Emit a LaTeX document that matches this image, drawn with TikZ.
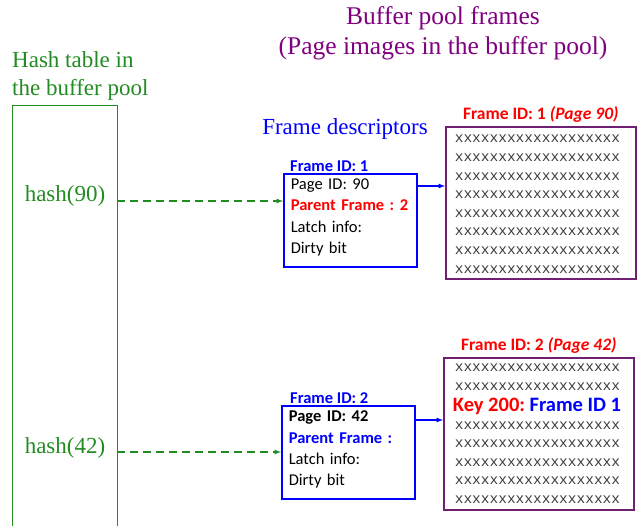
\documentclass[tikz,border=0pt]{standalone}
\usepackage{fontspec}
\setmainfont{Liberation Serif}
\setsansfont{Carlito}
\setmonofont{Liberation Mono}
\usetikzlibrary{positioning,arrows}
\frenchspacing

\definecolor{hashgreen}{RGB}{34,139,34}
\definecolor{titlepurple}{RGB}{128,0,128}
\definecolor{framepurple}{RGB}{112,32,112}
\definecolor{rowgray}{RGB}{60,60,60}

\begin{document}
\begin{tikzpicture}[x=1pt,y=-1pt,every node/.style={inner sep=0pt},
	serif/.style={font=\fontsize{23}{28}\selectfont},
	desc/.style={draw=blue,line width=1.6pt,anchor=north west,minimum width=133pt,minimum height=93pt,
		text width=119pt,inner xsep=7pt,text depth=72pt,align=left,font=\sffamily\fontsize{16.5}{21.3}\selectfont},
	pageframe/.style={draw=framepurple,line width=1.6pt,anchor=north west,minimum width=190pt,minimum height=152pt},
	idlabel/.style={font=\sffamily\bfseries\fontsize{16.5}{18}\selectfont,text=blue},
	framelabel/.style={font=\sffamily\bfseries\fontsize{17.5}{18}\selectfont,text=red},
	row/.style={font=\ttfamily\fontsize{14.5}{15}\selectfont,text=rowgray},
	hashptr/.style={->,>=latex,hashgreen,dash pattern=on 8pt off 5pt,line width=1.2pt},
	ptr/.style={->,>=latex,blue,line width=1.2pt}]
			\useasboundingbox (0,0) rectangle (642,525);

			%titles
			\node [font=\fontsize{25.5}{30}\selectfont,text=titlepurple,align=center] (title) at (443,33) {Buffer pool frames\\(Page images in the buffer pool)};
			\node [serif,text=hashgreen,align=left,anchor=west] (htitle) at (12,76) {Hash table in\\the buffer pool};
			\node [serif,text=blue] (dtitle) at (345,129) {Frame descriptors};

			%hash table
			\draw[hashgreen,thick] (12,530) -- (12,105) -- (117,105) -- (117,530);
			\node [serif,text=hashgreen] (h90) at (65,196) {hash(90)};
			\node [serif,text=hashgreen] (h42) at (65,448) {hash(42)};
			\coordinate (t90) at (117,201);
			\coordinate (t42) at (117,452);

			%frame descriptors
			\node [desc,label={[idlabel,anchor=south west,xshift=7pt,yshift=1pt]north west:Frame ID: 1}] (d1) at (283,173)
				{Page ID: 90\\\textcolor{red}{\bfseries Parent Frame : 2}\\Latch info:\\Dirty bit};
			\node [desc,label={[idlabel,anchor=south west,xshift=9pt,yshift=1pt]north west:Frame ID: 2}] (d2) at (281,405)
				{\textbf{Page ID: 42}\\\textcolor{blue}{\bfseries Parent Frame :}\\Latch info:\\Dirty bit};

			%buffer pool frames
			\node [pageframe,label={[framelabel,yshift=3pt]above:Frame ID: 1 \itshape(Page 90)}] (f1) at (445,126) {};
			\node [pageframe,label={[framelabel,yshift=3pt]above:Frame ID: 2 \itshape(Page 42)}] (f2) at (443,357) {};
			\foreach \r in {0,...,7}
				\node [row] (f1r\r) at (537.5,139+\r*18.6) {xxxxxxxxxxxxxxxxxxx};
			\foreach \y [count=\r] in {368,387,426,444,463,481,500}
				\node [row] (f2r\r) at (537.5,\y) {xxxxxxxxxxxxxxxxxxx};
			\node [font=\sffamily\bfseries\fontsize{20.5}{22}\selectfont] (key) at (537,406)
				{\textcolor{red}{Key 200:} \textcolor{blue}{Frame ID 1}};

			%edges
			\draw[hashptr] (t90) -- (t90 -| d1.west);
			\draw[hashptr] (t42) -- (t42 -| d2.west);
			\draw[ptr] ([yshift=-13pt]d1.north east) -- ([yshift=-60pt]f1.north west);
			\draw[ptr] ([yshift=-15pt]d2.north east) -- ([yshift=-63pt]f2.north west);
		\end{tikzpicture}
\end{document}
